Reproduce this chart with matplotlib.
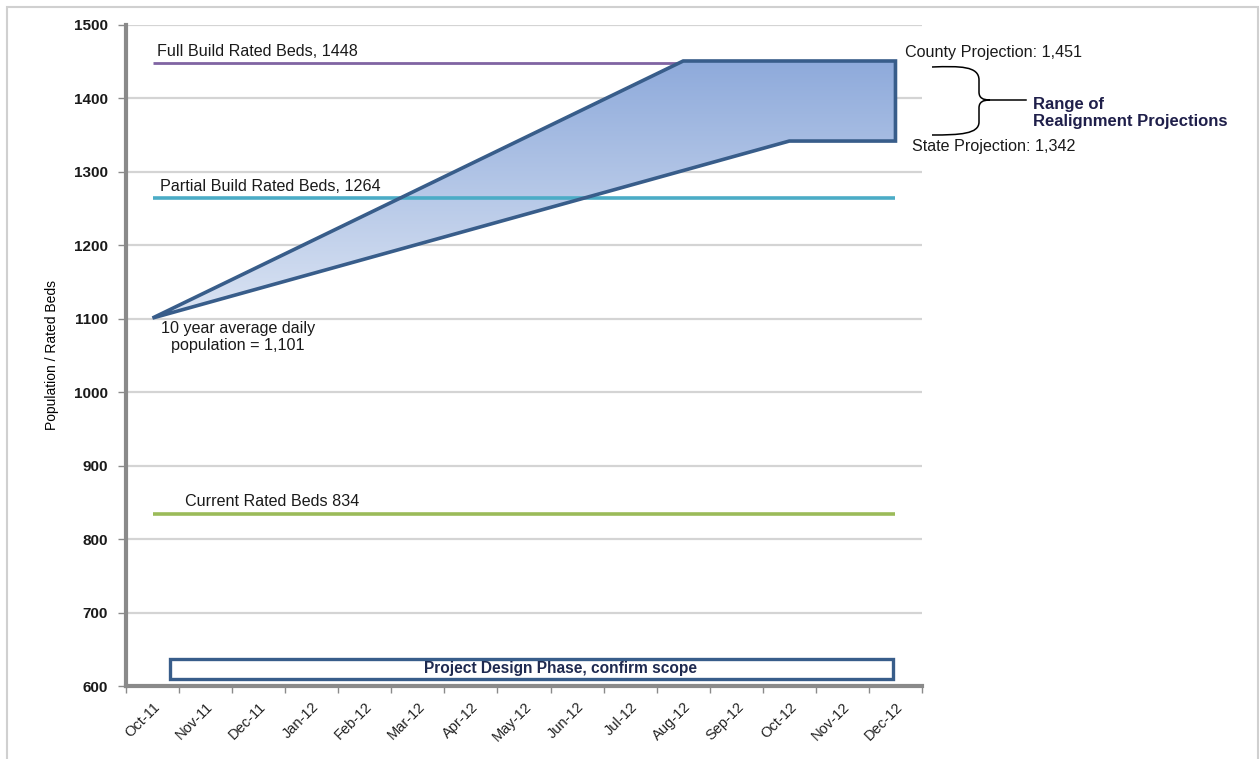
import matplotlib
matplotlib.use('Agg')
import matplotlib.pyplot as plt
import numpy as np
from matplotlib.patches import Polygon, Rectangle, PathPatch
from matplotlib.path import Path
from matplotlib.colors import LinearSegmentedColormap

plt.rcParams['font.family'] = ['Liberation Sans', 'DejaVu Sans']

# данные
months = ['Oct-11', 'Nov-11', 'Dec-11', 'Jan-12', 'Feb-12', 'Mar-12', 'Apr-12', 'May-12',
          'Jun-12', 'Jul-12', 'Aug-12', 'Sep-12', 'Oct-12', 'Nov-12', 'Dec-12']
county_x = [0, 10, 14]           # верхняя граница (County)
county_y = [1101, 1451, 1451]
state_x = [0, 12, 14]            # нижняя граница (State)
state_y = [1101, 1342, 1342]
full_build = 1448
partial_build = 1264
current_beds = 834
avg_pop = 1101
phase_start, phase_end = 0.33, 13.95
phase_low, phase_high = 610, 637

fig = plt.figure(figsize=(12.6, 7.59), dpi=100)
ax = fig.add_axes([126/1260, 1 - 686/759, (922-126)/1260, (686-25)/759])

x = np.arange(len(months))
ax.yaxis.grid(True, color='#d4d4d4', lw=1.6, zorder=0)
ax.set_axisbelow(True)
for s in ['top', 'right']:
    ax.spines[s].set_visible(False)
for s in ['left', 'bottom']:
    ax.spines[s].set_color('#8a8a8a')
    ax.spines[s].set_linewidth(3)

ax.set_xticks(x)
ax.set_xticklabels(months, rotation=45, ha='right', rotation_mode='anchor', fontsize=10.5, color='#222222')
ax.set_xticks(np.arange(-0.5, len(months)), minor=True)
ax.tick_params(axis='x', which='major', length=0, pad=10)
ax.tick_params(axis='x', which='minor', length=5, color='#8a8a8a', width=1)
ax.set_yticks(np.arange(600, 1501, 100))
ax.tick_params(axis='y', length=6, color='#8a8a8a', width=1, labelsize=11, labelcolor='#1a1a1a', pad=7)
for lbl in ax.get_yticklabels():
    lbl.set_fontweight('semibold')
ax.set_ylabel('Population / Rated Beds', fontsize=10, labelpad=11)

# линии мощностей
ax.hlines(full_build, 0, 14, color='#8064a2', lw=2, zorder=2)
ax.hlines(partial_build, 0, 14, color='#4bacc6', lw=2.6, zorder=4)
ax.hlines(current_beds, 0, 14, color='#9bbb59', lw=2.6, zorder=2)

# диапазон прогнозов с градиентом
verts = list(zip(county_x, county_y)) + list(zip(state_x[::-1], state_y[::-1]))
poly = Polygon(verts, closed=True, facecolor='none', edgecolor='#385d8a', lw=2.6, zorder=5, joinstyle='miter')
ax.add_patch(poly)
grad = np.linspace(0, 1, 256).reshape(-1, 1)
cmap = LinearSegmentedColormap.from_list('g', ['#dbe4f3', '#8eaadb'])
im = ax.imshow(grad, cmap=cmap, origin='lower', aspect='auto',
               extent=[0, 14, min(state_y), max(county_y)], zorder=3)
clip = Polygon(verts, closed=True, transform=ax.transData, facecolor='none', edgecolor='none')
ax.add_patch(clip)
im.set_clip_path(clip)
ax.set_xlim(-0.5, len(months) - 0.5)
ax.set_ylim(600, 1500)

# фаза проекта
ax.add_patch(Rectangle((phase_start, phase_low), phase_end - phase_start, phase_high - phase_low,
                       facecolor='white', edgecolor='#385d8a', lw=2.4, zorder=5))
ax.text(7.68, (phase_low + phase_high) / 2, 'Project Design Phase, confirm scope', ha='center', va='center',
        fontsize=11.2, fontweight='bold', color='#1f2a50', zorder=6)

# подписи
tc = '#1a1a1a'
fs = 11.6
ax.text(0.08, full_build + 6, 'Full Build Rated Beds, 1448', fontsize=fs, color=tc, va='bottom')
ax.text(0.14, partial_build + 6, 'Partial Build Rated Beds, 1264', fontsize=fs, color=tc, va='bottom')
ax.text(0.61, current_beds + 7, 'Current Rated Beds 834', fontsize=fs, color=tc, va='bottom')
ax.text(1.61, avg_pop - 4, '10 year average daily\npopulation = 1,101', fontsize=fs, color=tc,
        ha='center', va='top', linespacing=1.2)
ax.text(14.18, 1463, 'County Projection: 1,451', fontsize=fs, color=tc, va='center', clip_on=False)
ax.text(14.31, 1334, 'State Projection: 1,342', fontsize=fs, color=tc, va='center', clip_on=False)
fig.text(1033/1260, 1 - 113/759, 'Range of\nRealignment Projections', fontsize=12, fontweight='bold',
         color='#1f1f4a', va='center', ha='left', linespacing=1.15)

# фигурная скобка
def fp(px, py):
    return (px / 1260, 1 - py / 759)

pts = [(932, 67), (960, 66), (979, 66), (979, 80), (979, 92), (979, 98), (983, 100), (990, 100),
       (983, 100), (979, 102), (979, 108), (979, 122), (979, 134), (960, 135), (932, 135)]
codes = [Path.MOVETO, Path.CURVE4, Path.CURVE4, Path.CURVE4, Path.LINETO, Path.CURVE4, Path.CURVE4,
         Path.CURVE4, Path.CURVE4, Path.CURVE4, Path.CURVE4, Path.LINETO, Path.CURVE4, Path.CURVE4, Path.CURVE4]
brace = Path([fp(*p) for p in pts], codes)
fig.add_artist(PathPatch(brace, transform=fig.transFigure, facecolor='none', edgecolor='black', lw=1.1))
fig.add_artist(plt.Line2D([990/1260, 1026/1260], [1 - 100/759] * 2, transform=fig.transFigure,
                          color='black', lw=1.1))

# рамка
fig.add_artist(Rectangle((7/1260, -0.02), (1258-7)/1260, 1.02 - 7/759, transform=fig.transFigure,
                         fill=False, edgecolor='#d0d0d0', lw=1.5))

plt.savefig('out.png', dpi=100)
